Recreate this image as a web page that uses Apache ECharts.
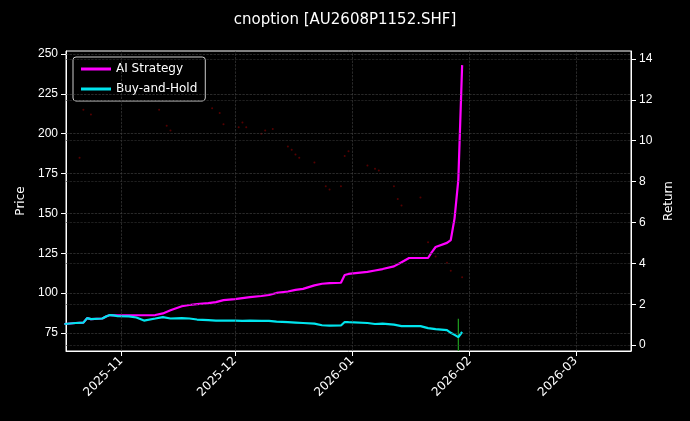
<!DOCTYPE html>
<html><head><meta charset="utf-8">
<script src="https://cdn.jsdelivr.net/npm/echarts@6/dist/echarts.min.js"></script>
<style>html,body{margin:0;background:#000}#main{width:690px;height:421px}</style>
</head><body><div id="main"></div>
<script>
// 价格散点（日期, 价格）
var priceDates = ['2025-10-21','2025-10-22','2025-10-24','2025-11-11','2025-11-13','2025-11-14','2025-11-25','2025-11-27','2025-11-28','2025-12-02','2025-12-03','2025-12-04','2025-12-08','2025-12-09','2025-12-11','2025-12-15','2025-12-16','2025-12-17','2025-12-18','2025-12-22','2025-12-25','2025-12-26','2025-12-29','2025-12-30','2025-12-31','2026-01-05','2026-01-07','2026-01-08','2026-01-12','2026-01-13','2026-01-14','2026-01-19','2026-01-21','2026-01-23','2026-01-26','2026-01-27','2026-01-30'];
var priceValues = [185,215,212,215,205,202,216,213,206,204,207,204,200,202,203,192,190,187,185,182,167,165,167,186,189,180,178,177,167,159,155,160,132,123,119,114,110];

var holdDates = ['2025-10-17','2025-10-20','2025-10-22','2025-10-23','2025-10-24','2025-10-27','2025-10-28','2025-10-29','2025-10-30','2025-10-31','2025-11-03','2025-11-05','2025-11-07','2025-11-10','2025-11-12','2025-11-14','2025-11-17','2025-11-19','2025-11-21','2025-11-24','2025-11-26','2025-11-28','2025-12-01','2025-12-03','2025-12-05','2025-12-08','2025-12-10','2025-12-12','2025-12-15','2025-12-17','2025-12-19','2025-12-22','2025-12-24','2025-12-26','2025-12-29','2025-12-30','2025-12-31','2026-01-05','2026-01-07','2026-01-09','2026-01-12','2026-01-14','2026-01-16','2026-01-19','2026-01-21','2026-01-23','2026-01-26','2026-01-27','2026-01-28','2026-01-29','2026-01-30'];
var holdValues = [1.03,1.08,1.1,1.32,1.27,1.3,1.4,1.47,1.45,1.42,1.4,1.35,1.2,1.3,1.37,1.3,1.32,1.3,1.25,1.22,1.2,1.2,1.2,1.18,1.2,1.18,1.18,1.15,1.12,1.1,1.08,1.05,0.97,0.95,0.96,1.13,1.12,1.08,1.03,1.05,1.0,0.93,0.93,0.93,0.83,0.78,0.73,0.6,0.5,0.39,0.64];

var stratDates = ['2025-10-17','2025-10-20','2025-10-22','2025-10-23','2025-10-24','2025-10-27','2025-10-28','2025-10-29','2025-10-30','2025-10-31','2025-11-03','2025-11-05','2025-11-07','2025-11-10','2025-11-12','2025-11-14','2025-11-17','2025-11-19','2025-11-21','2025-11-24','2025-11-26','2025-11-28','2025-12-01','2025-12-03','2025-12-05','2025-12-08','2025-12-10','2025-12-12','2025-12-15','2025-12-17','2025-12-19','2025-12-22','2025-12-24','2025-12-26','2025-12-29','2025-12-30','2025-12-31','2026-01-05','2026-01-07','2026-01-09','2026-01-12','2026-01-14','2026-01-16','2026-01-19','2026-01-21','2026-01-22','2026-01-23','2026-01-26','2026-01-27','2026-01-28','2026-01-29','2026-01-30'];
var stratValues = [1.03,1.08,1.1,1.32,1.27,1.3,1.4,1.47,1.45,1.45,1.45,1.46,1.46,1.47,1.55,1.7,1.9,1.96,2.0,2.05,2.1,2.2,2.25,2.3,2.35,2.4,2.45,2.55,2.62,2.7,2.75,2.92,3.0,3.03,3.05,3.43,3.48,3.58,3.65,3.72,3.85,4.05,4.26,4.26,4.26,4.55,4.8,5.0,5.14,6.2,8.1,13.7];

// 绿色标记（日期, 价格区间）
var markDates = ['2026-01-29','2026-01-29'];
var markValues = [63.7, 84];

var monthTicks = ['2025-11-01', '2025-12-01', '2026-01-01', '2026-02-01', '2026-03-01'];
var priceTicks = [75, 100, 125, 150, 175, 200, 225, 250];
var returnTicks = [0, 2, 4, 6, 8, 10, 12, 14];

function ts(s) { return +new Date(s + 'T00:00:00'); }
function zip(a, b) { return a.map(function (d, i) { return [ts(d), b[i]]; }); }

var myChart = echarts.init(document.getElementById('main'));
var txt = { color: '#fff', fontSize: 12, fontFamily: 'DejaVu Sans' };
var dash = { color: '#444', type: 'dashed', width: 0.6 };

myChart.setOption({
	backgroundColor: '#000',
	animation: false,
	title: {
		text: 'cnoption [AU2608P1152.SHF]',
		left: 'center', top: 8,
		textStyle: { color: '#fff', fontSize: 15, fontWeight: 'normal', fontFamily: 'DejaVu Sans' }
	},
	legend: {
		data: ['AI Strategy', 'Buy-and-Hold'],
		orient: 'vertical',
		left: 73, top: 57,
		itemWidth: 30, itemHeight: 3, itemGap: 8,
		icon: 'rect',
		padding: [6, 8],
		borderColor: '#ccc', borderWidth: 1, borderRadius: 3,
		backgroundColor: '#000',
		textStyle: txt
	},
	grid: { left: 66, right: 59, top: 51, bottom: 70, show: true, borderColor: '#fff', borderWidth: 1, backgroundColor: 'transparent' },
	xAxis: {
		type: 'value',
		min: ts('2025-10-17') + 10 * 3600000, max: ts('2026-03-15') + 14 * 3600000,
		axisLine: { onZero: false, lineStyle: { color: '#fff' } },
		axisTick: { customValues: monthTicks.map(ts), lineStyle: { color: '#fff' } },
		axisLabel: {
			color: '#fff', fontSize: 12, rotate: 45, fontFamily: 'DejaVu Sans',
			customValues: monthTicks.map(ts),
			formatter: function (v) {
				var d = new Date(v);
				return d.getFullYear() + '-' + String(d.getMonth() + 1).padStart(2, '0');
			}
		},
		splitLine: { show: false }
	},
	yAxis: [{
		type: 'value', name: 'Price', nameLocation: 'middle', nameGap: 38,
		nameTextStyle: txt,
		min: 63.7, max: 251.9,
		axisLabel: { color: '#fff', fontSize: 12, customValues: priceTicks },
		axisTick: { show: true, customValues: priceTicks, lineStyle: { color: '#fff' } },
		axisLine: { show: true, onZero: false, lineStyle: { color: '#fff' } },
		splitLine: { show: false }
	}, {
		type: 'value', name: 'Return', nameLocation: 'middle', nameGap: 32,
		nameTextStyle: txt,
		min: -0.29, max: 14.39,
		axisLabel: { color: '#fff', fontSize: 12, customValues: returnTicks },
		axisTick: { show: true, customValues: returnTicks, lineStyle: { color: '#fff' } },
		axisLine: { show: true, onZero: false, lineStyle: { color: '#fff' } },
		splitLine: { show: false }
	}],
	series: [{
		// 网格线
		type: 'line', yAxisIndex: 0, data: [], markLine: {
			silent: true, symbol: 'none', label: { show: false }, lineStyle: dash,
			data: priceTicks.map(function (v) { return { yAxis: v }; })
				.concat(monthTicks.map(function (d) { return { xAxis: ts(d) }; }))
		}
	}, {
		type: 'line', yAxisIndex: 1, data: [], markLine: {
			silent: true, symbol: 'none', label: { show: false }, lineStyle: { color: '#333', type: 'dashed', width: 0.6 },
			data: returnTicks.map(function (v) { return { yAxis: v }; })
		}
	}, {
		name: 'price', type: 'scatter', yAxisIndex: 0,
		symbolSize: 2, itemStyle: { color: '#6a0000' },
		data: zip(priceDates, priceValues), silent: true
	}, {
		name: 'mark', type: 'line', yAxisIndex: 0, symbol: 'none',
		lineStyle: { color: '#1fa01f', width: 1.2 },
		data: zip(markDates, markValues)
	}, {
		name: 'AI Strategy', type: 'line', yAxisIndex: 1, symbol: 'none',
		itemStyle: { color: '#ff00ff' }, lineStyle: { color: '#ff00ff', width: 2.2 },
		data: zip(stratDates, stratValues), z: 3
	}, {
		name: 'Buy-and-Hold', type: 'line', yAxisIndex: 1, symbol: 'none',
		itemStyle: { color: '#00e5ee' }, lineStyle: { color: '#00e5ee', width: 2.2 },
		data: zip(holdDates, holdValues), z: 4
	}]
});
</script></body></html>
